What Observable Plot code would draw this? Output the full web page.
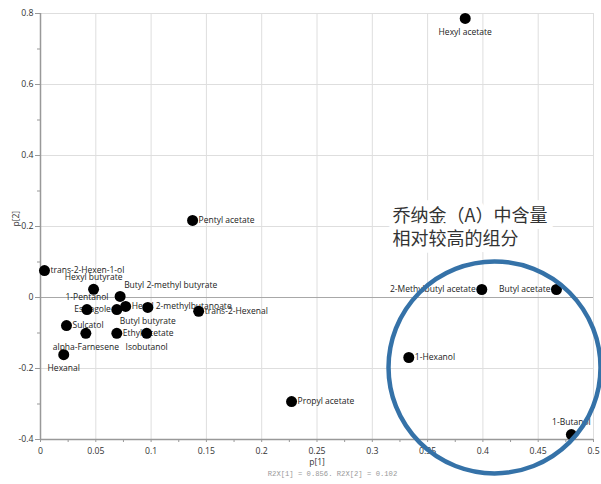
<!DOCTYPE html>
<html><head><meta charset="utf-8">
<script src="https://cdn.jsdelivr.net/npm/d3@7"></script>
<script src="https://cdn.jsdelivr.net/npm/@observablehq/plot@0.6"></script>
<style>body{margin:0;background:#fff;} svg{display:block}</style>
</head><body><div id="chart"></div>
<script>
const names = ["Hexyl acetate","Pentyl acetate","trans-2-Hexen-1-ol","Hexyl butyrate","Butyl 2-methyl butyrate","1-Pentanol","Estragole","Hexyl 2-methylbutanoate","Butyl butyrate","trans-2-Hexenal","Sulcatol","alpha-Farnesene","Ethyl acetate","Isobutanol","Hexanal","Propyl acetate","2-Methylbutyl acetate","Butyl acetate","1-Hexanol","1-Butanol"];
const p1 = [0.384,0.1375,0.0036,0.048,0.072,0.042,0.069,0.077,0.097,0.143,0.0235,0.041,0.069,0.096,0.021,0.227,0.399,0.4665,0.333,0.480];
const p2 = [0.786,0.217,0.076,0.023,0.003,-0.034,-0.034,-0.025,-0.028,-0.039,-0.079,-0.101,-0.101,-0.101,-0.161,-0.293,0.0225,0.0225,-0.169,-0.386];
const labelSide = ["below","right","right","above","aboveRight","above","left","right","below","right","right","below","right","below","below","right","left","left","right","above"];
const xTicks = [0,0.05,0.1,0.15,0.2,0.25,0.3,0.35,0.4,0.45,0.5];
const xMinor = [0.025,0.075,0.125,0.175,0.225,0.275,0.325,0.375,0.425,0.475];
const yTicks = [-0.4,-0.2,0,0.2,0.4,0.6,0.8];
const yMinor = [-0.3,-0.1,0.1,0.3,0.5,0.7];
const xLabel = "p[1]";
const yLabel = "p[2]";
const caption = "R2X[1] = 0.856. R2X[2] = 0.102";
const noteText = "乔纳金（A）中含量\n相对较高的组分";
const noteAt = [{x: 0.3183, y: 0.201}];
const ringAt = [{x: 0.4105, y: -0.197}];

const rows = names.map((n, i) => ({name: n, x: p1[i], y: p2[i], side: labelSide[i]}));
const font = "'Open Sans', sans-serif";
const bySide = s => rows.filter(d => d.side === s);
const lab = {x: "x", y: "y", text: "name", fontSize: 8.5, fill: "#222", fontFamily: font};
const fmt = d => String(d);

const chart = Plot.plot({
  width: 601, height: 484,
  marginLeft: 40, marginRight: 8, marginTop: 13, marginBottom: 45,
  x: {domain: [0, 0.5]},
  y: {domain: [-0.4, 0.8]},
  style: {fontFamily: font, background: "#fff"},
  marks: [
    Plot.gridX(xTicks, {stroke: "#dedede", strokeOpacity: 1}),
    Plot.gridY(yTicks, {stroke: "#dedede", strokeOpacity: 1}),
    Plot.ruleY([0], {stroke: "#a8a8a8"}),
    Plot.axisX(xMinor, {tickSize: 3, tickFormat: () => "", stroke: "#999", label: null}),
    Plot.axisX(xTicks, {tickSize: 3, tickPadding: 5, tickFormat: fmt, fontSize: 8.7, fill: "#333", stroke: "#999", label: null}),
    Plot.axisY(yMinor, {tickSize: 3, tickFormat: () => "", stroke: "#999", label: null}),
    Plot.axisY(yTicks, {tickSize: 5, tickPadding: 2, tickFormat: fmt, fontSize: 8.7, fill: "#333", stroke: "#999", label: null}),
    Plot.ruleX([0], {stroke: "#999", strokeWidth: 1.5}),
    Plot.ruleY([-0.4], {stroke: "#999", strokeWidth: 1.5}),
    Plot.text([xLabel], {frameAnchor: "bottom", dy: 25, text: d => d, fontSize: 8.5, fill: "#333"}),
    Plot.text([yLabel], {frameAnchor: "left", dx: -24, rotate: -90, text: d => d, fontSize: 8.5, fill: "#333"}),
    Plot.text([caption], {frameAnchor: "bottom", dx: 15.5, dy: 36, text: d => d, fontFamily: "'Liberation Mono', 'DejaVu Sans Mono', monospace", fontSize: 7.2, fill: "#999"}),
    Plot.text(bySide("right"), {...lab, textAnchor: "start", dx: 6}),
    Plot.text(bySide("left"), {...lab, textAnchor: "end", dx: -6}),
    Plot.text(bySide("above"), {...lab, textAnchor: "middle", dy: -12}),
    Plot.text(bySide("below"), {...lab, textAnchor: "middle", dy: 14}),
    Plot.text(bySide("aboveRight"), {...lab, textAnchor: "start", dx: 4, dy: -11}),
    Plot.dot(rows, {x: "x", y: "y", r: 5.5, fill: "#000"}),
    Plot.text(noteAt, {x: "x", y: "y", text: () => noteText, textAnchor: "start", lineAnchor: "middle", lineHeight: 1.28,
      fontSize: 18, fontFamily: "'Noto Sans CJK SC', sans-serif", fill: "#333",
      stroke: "#fff", strokeWidth: 12, strokeLinejoin: "miter", paintOrder: "stroke"}),
    Plot.dot(ringAt, {x: "x", y: "y", r: 106, stroke: "#3572a8", strokeWidth: 4.5, fill: "none"})
  ]
});
document.getElementById("chart").appendChild(chart);
</script>
</body></html>
